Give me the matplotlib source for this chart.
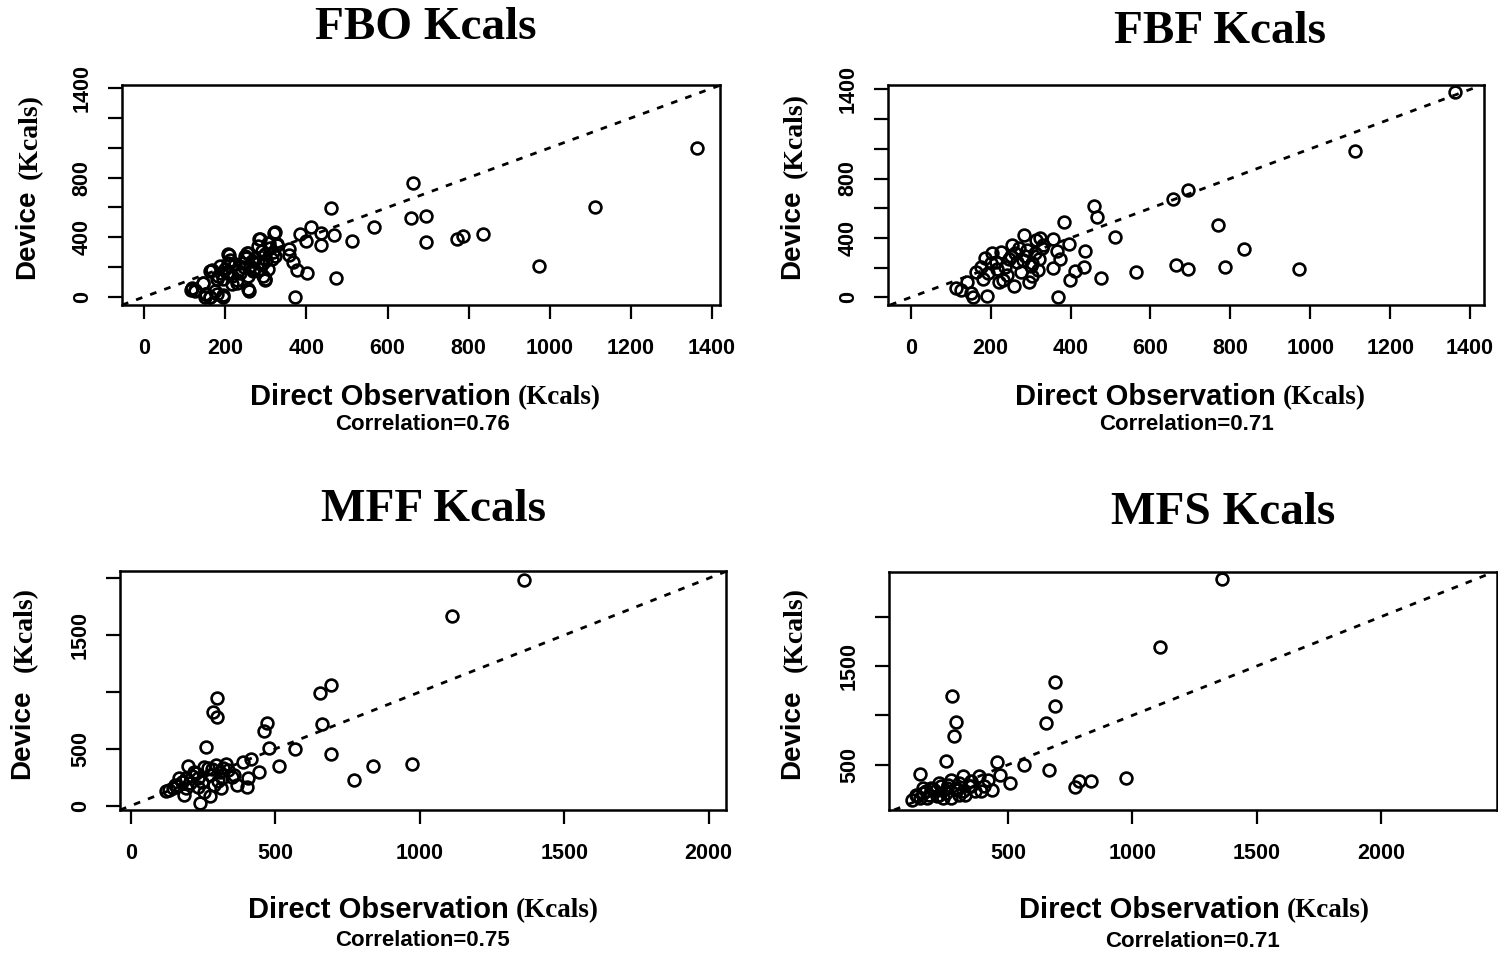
import matplotlib
matplotlib.use('Agg')
import matplotlib.pyplot as plt

# ---- data (Direct Observation vs Device, Kcals) ----
fbo_x = [1363, 663, 1112, 460, 657, 694, 566, 412, 436, 468, 385, 398, 322, 283, 307, 327,
         512, 436, 694, 771, 787, 836, 974, 473, 401, 376, 366, 358, 356, 371, 259, 195,
         163, 149, 153, 144, 115, 125, 179, 208, 254, 166, 188, 229, 298,
         117, 125, 146, 150, 162, 195, 175, 162, 187, 207, 203, 228, 216, 236, 207, 224,
         249, 257, 273, 261, 269, 257, 286, 306, 319, 327, 298, 294, 298, 314, 323, 281,
         257, 240, 216, 195, 183, 281, 286, 306, 294,
         200, 212, 245, 265, 290, 310, 180, 232, 252, 270, 300, 318]
fbo_y = [997, 766, 605, 594, 531, 542, 468, 468, 430, 414, 419, 374, 432, 388, 358, 347,
         376, 347, 365, 388, 405, 419, 208, 125, 157, 179, 235, 280, 318, 0, 40, 0,
         -4, -4, 22, 90, 49, 40, 22, 280, 291, 179, 157, 112, 112,
         56, 47, 96, 18, 2, 11, 40, 174, 207, 285, 163, 96, 85, 163, 229, 218,
         274, 296, 263, 207, 174, 140, 385, 363, 430, 352, 285, 229, 118, 252, 274, 341,
         51, 229, 140, 118, 140, 229, 185, 185, 140,
         190, 250, 200, 240, 310, 330, 120, 170, 260, 190, 250, 300]

fbf_x = [1363, 1112, 693, 656, 458, 465, 383, 770, 511, 395, 834, 437, 367, 373, 355, 412,
         434, 398, 475, 565, 664, 693, 786, 973, 369, 355, 323, 283, 254, 227, 186, 163,
         141, 112, 125, 151, 157, 192, 259, 221, 295, 319, 304, 328, 290, 266, 237, 213,
         194, 175, 275, 251, 304, 232, 203, 280, 314,
         200, 215, 245, 262, 285, 300, 320, 240, 270, 180, 330, 310]
fbf_y = [1382, 988, 725, 664, 612, 538, 504, 484, 405, 360, 326, 315, 313, 257, 196, 178,
         207, 117, 128, 173, 218, 191, 203, 189, 0, 392, 398, 421, 349, 308, 263, 173,
         106, 61, 50, 27, 0, 9, 79, 101, 106, 185, 234, 331, 320, 241, 203, 241,
         162, 207, 173, 275, 140, 117, 297, 252, 383,
         230, 190, 260, 300, 280, 210, 260, 150, 330, 120, 350, 300]

mff_x = [1361, 1111, 693, 656, 298, 284, 298, 470, 459, 663, 261, 477, 567, 693, 514, 837,
         974, 771, 416, 387, 442, 405, 366, 401, 313, 274, 240, 185, 121, 151, 199, 254,
         295, 329, 357, 316, 274, 233, 206, 165, 219, 267, 309, 192, 233, 144, 178, 288,
         336, 254,
         130, 160, 210, 245, 280, 320, 350, 225, 190, 300]
mff_y = [1986, 1669, 1062, 994, 950, 821, 783, 724, 660, 719, 513, 504, 499, 455, 352, 346,
         367, 226, 408, 387, 299, 241, 182, 167, 158, 85, 26, 94, 132, 182, 349, 343,
         358, 364, 270, 241, 270, 241, 197, 241, 299, 328, 299, 153, 167, 153, 211, 182,
         314, 123,
         140, 170, 260, 210, 320, 330, 250, 290, 240, 220]

mfs_x = [1361, 1111, 689, 689, 653, 274, 290, 282, 251, 145, 456, 563, 663, 832, 784, 768,
         974, 508, 468, 437, 382, 366, 318, 302, 271, 224, 192, 160, 113, 145, 176, 224,
         271, 302, 342, 405, 421, 390, 256, 208, 184, 240, 326, 295, 350, 129, 160,
         135, 170, 200, 230, 260, 290, 320, 350, 215, 250]
mfs_y = [2378, 1697, 1343, 1097, 921, 1201, 938, 787, 534, 409, 527, 500, 443, 331, 338, 271,
         365, 311, 399, 247, 382, 230, 382, 315, 348, 315, 264, 213, 146, 163, 163, 197,
         163, 197, 281, 281, 348, 230, 264, 230, 197, 163, 197, 247, 331, 197, 264,
         180, 230, 250, 290, 300, 260, 230, 280, 180, 210]

titles = ['FBO Kcals', 'FBF Kcals', 'MFF Kcals', 'MFS Kcals']
correlations = ['0.76', '0.71', '0.75', '0.71']

W, H = 1498, 955
SANS = 'Liberation Sans'
SERIF = 'Liberation Serif'

fig = plt.figure(figsize=(W / 100, H / 100), dpi=100)


def px_axes(left, right, top, bottom):
    return fig.add_axes([left / W, 1 - bottom / H, (right - left) / W, (bottom - top) / H])


def ftext(x, y, s, **kw):
    fig.text(x / W, 1 - y / H, s, **kw)


panels = [
    # data, box (l, r, t, b), xlim, ylim, xticks, xlabels, yticks, ylabels
    (fbo_x, fbo_y, (122, 720, 85, 305), (-55, 1420), (-55, 1422),
     list(range(0, 1401, 200)), [str(v) for v in range(0, 1401, 200)],
     list(range(0, 1401, 200)), ['0', '', '400', '', '800', '', '', '1400']),
    (fbf_x, fbf_y, (888, 1484, 85, 305), (-57, 1435), (-52, 1430),
     list(range(0, 1401, 200)), [str(v) for v in range(0, 1401, 200)],
     list(range(0, 1401, 200)), ['0', '', '400', '', '800', '', '', '1400']),
    (mff_x, mff_y, (120, 726, 571, 810), (-38, 2060), (-38, 2064),
     [0, 500, 1000, 1500, 2000], ['0', '500', '1000', '1500', '2000'],
     [0, 500, 1000, 1500, 2000], ['0', '500', '', '1500', '']),
    (mfs_x, mfs_y, (889, 1497, 572, 810), (22, 2465), (42, 2452),
     [500, 1000, 1500, 2000], ['500', '1000', '1500', '2000'],
     [500, 1000, 1500, 2000], ['500', '', '1500', '']),
]

for (xs, ys, box, xl, yl, xt, xtl, yt, ytl) in panels:
    ax = px_axes(*box)
    ax.plot(xs, ys, 'o', mfc='none', mec='black', ms=8.5, mew=1.9, zorder=3)
    ax.axline((0, 0), slope=1, color='black', lw=2.0, linestyle=(0, (2.4, 3.0)), zorder=2)
    ax.set_xlim(*xl)
    ax.set_ylim(*yl)
    ax.set_xticks(xt)
    ax.set_xticklabels(xtl, fontfamily=SANS, fontweight='bold', fontsize=15.5)
    ax.set_yticks(yt)
    ax.set_yticklabels(ytl, fontfamily=SANS, fontweight='bold', fontsize=15.5,
                       rotation=90, va='center')
    ax.tick_params(axis='x', length=10, width=1.6, pad=14)
    ax.tick_params(axis='y', length=10, width=1.6, pad=11)
    for sp in ax.spines.values():
        sp.set_linewidth(1.8)

# titles and axis texts, placed in pixel positions of the reference
title_pos = [(426, 28), (1220, 32), (434, 510), (1223, 513)]
xlab_pos = [(250, 397), (1015, 397), (248, 910), (1019, 910)]
corr_pos = [(422, 424), (1186, 424), (423, 940), (1193, 941)]
dev_pos = [(27, 234, 136), (792, 234, 135), (22, 734, 629), (792, 734, 629)]

for i in range(4):
    tx, ty = title_pos[i]
    ftext(tx, ty, titles[i], family=SERIF, weight='bold', fontsize=34, ha='center', va='center')
    lx, ly = xlab_pos[i]
    ftext(lx, ly, 'Direct Observation', family=SANS, weight='bold', fontsize=21,
          ha='left', va='center')
    ftext(lx + 268, ly + 1, '(Kcals)', family=SERIF, weight='bold', fontsize=19.5,
          ha='left', va='center')
    cx, cy = corr_pos[i]
    ftext(cx, cy, 'Correlation=' + correlations[i], family=SANS, weight='bold', fontsize=16,
          ha='center', va='center')
    dx, dy1, dy2 = dev_pos[i]
    ftext(dx, dy1, 'Device', family=SANS, weight='bold', fontsize=20, rotation=90,
          ha='center', va='center')
    ftext(dx + 3, dy2, '(Kcals)', family=SERIF, weight='bold', fontsize=20, rotation=90,
          ha='center', va='center')

fig.savefig('out.png', dpi=100)
